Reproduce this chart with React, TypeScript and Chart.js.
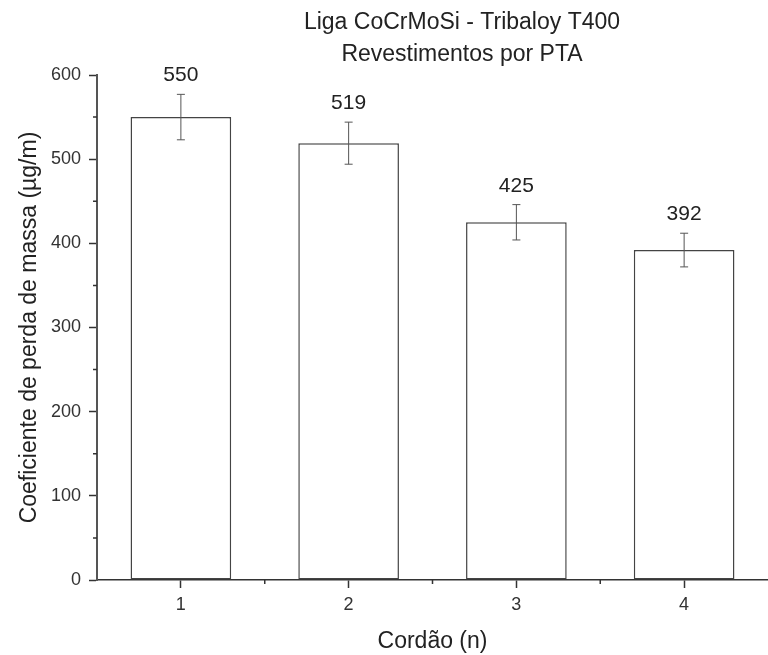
import React, { useEffect, useRef } from "react";
import { Chart, registerables } from "chart.js";

Chart.register(...registerables);

// ---- data ----
const categories = [1, 2, 3, 4];
const values = [550, 519, 425, 392];
const errors = [27, 25, 21, 20];
const valueLabels = ["550", "519", "425", "392"];
const xTickValues = [1, 2, 3, 4];
const xMinorTicks = [1.5, 2.5, 3.5];
const yMinorTicks = [50, 150, 250, 350, 450, 550];
const titleLines = ["Liga CoCrMoSi - Tribaloy T400", "Revestimentos por PTA"];
const yTitle = "Coeficiente de perda de massa (µg/m)";
const xTitle = "Cordão (n)";

const FONT = "Arial, 'Liberation Sans', sans-serif";

const decorPlugin = {
  id: "decor",
  afterDatasetsDraw(chart: any) {
    const ctx = chart.ctx;
    const xs = chart.scales.x;
    const ys = chart.scales.y;
    ctx.save();
    // error bars + value labels
    categories.forEach((c, i) => {
      const px = xs.getPixelForValue(c);
      const top = ys.getPixelForValue(values[i] + errors[i]);
      const bot = ys.getPixelForValue(values[i] - errors[i]);
      ctx.strokeStyle = "#555";
      ctx.lineWidth = 1;
      ctx.beginPath();
      ctx.moveTo(px, top);
      ctx.lineTo(px, bot);
      ctx.moveTo(px - 4, top);
      ctx.lineTo(px + 4, top);
      ctx.moveTo(px - 4, bot);
      ctx.lineTo(px + 4, bot);
      ctx.stroke();
      ctx.fillStyle = "#222";
      ctx.font = `21px ${FONT}`;
      ctx.textAlign = "center";
      ctx.textBaseline = "alphabetic";
      ctx.fillText(valueLabels[i], px, top - 13);
    });
    // minor ticks
    ctx.strokeStyle = "#333";
    ctx.lineWidth = 1.5;
    ctx.beginPath();
    xMinorTicks.forEach((v) => {
      const px = xs.getPixelForValue(v);
      ctx.moveTo(px, xs.top);
      ctx.lineTo(px, xs.top + 4);
    });
    yMinorTicks.forEach((v) => {
      const py = ys.getPixelForValue(v);
      ctx.moveTo(ys.right, py);
      ctx.lineTo(ys.right - 4, py);
    });
    ctx.stroke();
    // title
    ctx.fillStyle = "#222";
    ctx.font = `23px ${FONT}`;
    ctx.textAlign = "center";
    ctx.fillText(titleLines[0], 462, 29);
    ctx.fillText(titleLines[1], 462, 61);
    ctx.restore();
  },
};

export default function App() {
  const ref = useRef<HTMLCanvasElement>(null);
  useEffect(() => {
    if (!ref.current) return;
    const chart = new Chart(ref.current, {
      type: "bar",
      data: {
        datasets: [
          {
            data: categories.map((c, i) => ({ x: c, y: values[i] })),
            backgroundColor: "#ffffff",
            borderColor: "#444",
            borderWidth: 1.5,
            borderSkipped: false,
            categoryPercentage: 1,
            barPercentage: 0.6,
          },
        ],
      },
      options: {
        responsive: false,
        animation: false,
        layout: { padding: { top: 75, right: -9, left: 0, bottom: 0 } },
        plugins: {
          legend: { display: false },
          tooltip: { enabled: false },
          title: { display: false },
        },
        scales: {
          x: {
            type: "linear",
            min: 0.5,
            max: 4.5,
            offset: false,
            afterBuildTicks: (s: any) => {
              s.ticks = xTickValues.map((v) => ({ value: v }));
            },
            afterFit: (s: any) => {
              s.height = 75;
            },
            grid: {
              offset: false,
              drawOnChartArea: false,
              drawTicks: true,
              tickLength: 8,
              tickColor: "#333",
              tickWidth: 1.5,
            },
            border: { display: true, color: "#333", width: 1.5 },
            ticks: {
              autoSkip: false,
              maxRotation: 0,
              padding: 6,
              color: "#333",
              font: { family: FONT, size: 18 },
              callback: (v: any) => String(v),
            },
            title: {
              display: true,
              text: xTitle,
              color: "#222",
              font: { family: FONT, size: 23 },
              padding: { top: 2, bottom: 0 },
            },
          },
          y: {
            min: 0,
            max: 600,
            afterFit: (s: any) => {
              s.width = 97;
            },
            grid: {
              drawOnChartArea: false,
              drawTicks: true,
              tickLength: 8,
              tickColor: "#333",
              tickWidth: 1.5,
            },
            border: { display: true, color: "#555", width: 2 },
            ticks: {
              stepSize: 100,
              padding: 8,
              color: "#333",
              font: { family: FONT, size: 18 },
            },
            title: {
              display: true,
              text: yTitle,
              color: "#222",
              font: { family: FONT, size: 23 },
              padding: { top: 16, bottom: 0 },
            },
          },
        },
      },
      plugins: [decorPlugin],
    });
    return () => chart.destroy();
  }, []);
  return (
    <div style={{ position: "absolute", left: 0, top: 0, width: 768, height: 655, background: "#fff" }}>
      <canvas ref={ref} width={768} height={655} />
    </div>
  );
}
